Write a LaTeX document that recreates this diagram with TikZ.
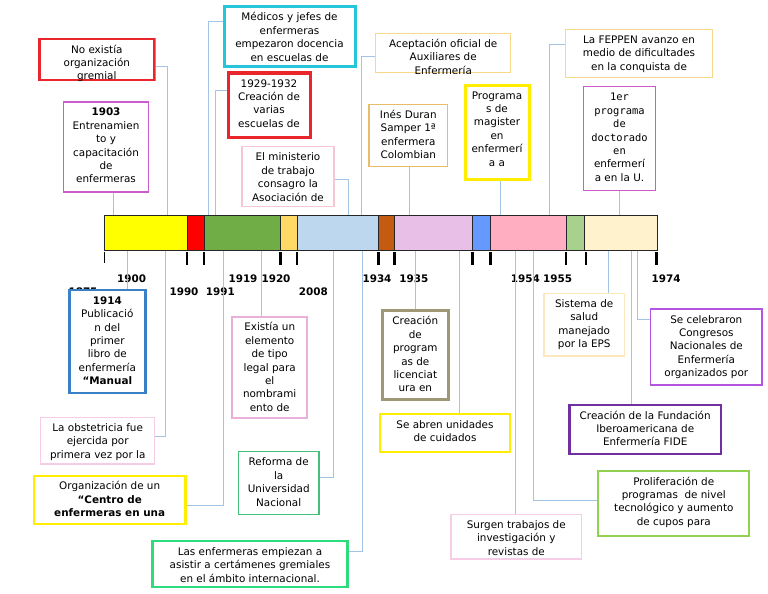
\documentclass[tikz,border=0pt]{standalone}
\usepackage{fontspec}
\setmainfont{DejaVu Sans}
\setmonofont{DejaVu Sans Mono}
\definecolor{amarillo}{HTML}{FFFF00}
\definecolor{rojo}{HTML}{FF0000}
\definecolor{verde}{HTML}{70AD47}
\definecolor{naranja}{HTML}{FFD966}
\definecolor{celeste}{HTML}{BDD7EE}
\definecolor{cafe}{HTML}{C55A11}
\definecolor{lila}{HTML}{E8BFE6}
\definecolor{azul}{HTML}{6699FF}
\definecolor{rosa}{HTML}{FFADC0}
\definecolor{verdeclaro}{HTML}{A9D18E}
\definecolor{crema}{HTML}{FFF2CC}
\definecolor{conector}{HTML}{A2C4E6}
\definecolor{bRojo}{HTML}{E8262C}
\definecolor{bOrquidea}{HTML}{CC5CCC}
\definecolor{bCian}{HTML}{26C6DA}
\definecolor{bRosa}{HTML}{F6C6D2}
\definecolor{bNaranja}{HTML}{F8D888}
\definecolor{bOro}{HTML}{E6BE6A}
\definecolor{bAmarillo}{HTML}{FFEE00}
\definecolor{bAzul}{HTML}{3A80C6}
\definecolor{bMalva}{HTML}{E8B0DA}
\definecolor{bVerde}{HTML}{44C07A}
\definecolor{bMenta}{HTML}{2EDC7E}
\definecolor{bCaqui}{HTML}{A09874}
\definecolor{bCrema}{HTML}{FCE8BC}
\definecolor{bPurpura}{HTML}{B455E0}
\definecolor{bVioleta}{HTML}{7030A0}
\definecolor{bLima}{HTML}{92D050}
\definecolor{bRosado}{HTML}{F6CCE6}
\begin{document}
\begin{tikzpicture}[x=1pt, y=-1pt,
      caja/.style n args={4}{draw=#1, line width=#2, fill=white, inner sep=0pt,
        execute at begin node={\fontsize{10.4pt}{13.4pt}\selectfont\begin{minipage}[c][#4pt][t]{#3pt}\centering\vspace*{4.8pt}\strut},
        execute at end node={\end{minipage}}},
      anio/.style={font=\bfseries\fontsize{10.4pt}{12pt}\selectfont, anchor=base, inner sep=0pt},
      con/.style={draw=conector, line width=0.9pt},
      tic/.style={line width=2.6pt},
    ]

    \useasboundingbox (0,0) rectangle (768,594);

    % barra de tiempo
    \foreach \a/\b/\c in {104/187/amarillo, 187/204/rojo, 204/280.5/verde, 280.5/297/naranja,
        297/378.5/celeste, 378.5/394.5/cafe, 394.5/472.7/lila, 472.7/490.3/azul,
        490.3/566/rosa, 566/584.5/verdeclaro, 584.5/657/crema}
      \filldraw[fill=\c, draw=black!85, line width=0.8pt] (\a,215) rectangle (\b,250);
    \node[draw=black!85, line width=1pt, minimum width=553pt, minimum height=35pt, inner sep=0pt] (barra) at (380.5,232.5) {};

    \draw[line width=1pt] (104.5,252) -- (104.5,263);
    \foreach \x in {187,204,280.5,297,378.5,394.5,472.7,490.3,566,586,656.5}
      \draw[tic] (\x,252) -- (\x,265);

    \foreach \x/\y/\t in {131.7/282/1900, 243/282/1919, 276/282/1920, 377/282/1934,
        413.8/282/1935, 525.3/282/1954, 557.7/282/1955, 666.2/282/1974,
        184/295.5/1990, 220.3/295.5/1991, 313.3/295.5/2008, 83/295.5/1875}
      \node[anio] (a\t) at (\x,\y) {\t};

    % arriba
    \begin{scope}
      \clip (38,37.7) rectangle (155.6,81.3);
      \node[caja={bRojo}{2.5pt}{115}{41}] (gremio) at (96.8,59.5) {No existía\\organización\\gremial};
    \end{scope}
    \node[caja={bOrquidea}{1.5pt}{85.4}{90.3}] (ent) at (106,146.9) {\textbf{1903}\\Entrenamien\\to y\\capacitación\\de\\enfermeras};
    \node[caja={bCian}{3pt}{131}{59.3}] (med) at (289.5,36.4) {Médicos y jefes de\\enfermeras\\empezaron docencia\\en escuelas de};
    \node[caja={bRojo}{3pt}{82}{64}] (esc) at (269,105) {1929-1932\\Creación de\\varias\\escuelas de};
    \node[caja={bRosa}{1.2pt}{92}{60}] (min) at (288,176.7) {El ministerio\\de trabajo\\consagro la\\Asociación de};
    \begin{scope}
      \clip (374.5,32.2) rectangle (511.9,73.8);
      \node[caja={bNaranja}{1.5pt}{135}{39.4}] (acep) at (443.2,53) {Aceptación oficial de\\Auxiliares de\\Enfermería};
    \end{scope}
    \node[caja={bOro}{1.5pt}{78.7}{62.4}] (ines) at (408.3,135.5) {Inés Duran\\Samper 1ª\\enfermera\\Colombian};
    \node[caja={bAmarillo}{3pt}{64}{94}] (mag) at (497,132) {Programa\\s de\\magister\\en\\enfermerí\\a a};
    \node[caja={bNaranja}{1.5pt}{146.6}{48}] (feppen) at (639,53.3) {La FEPPEN avanzo en\\medio de dificultades\\en la conquista de};
    \node[caja={bOrquidea}{1.5pt}{72.4}{104}] (doc) at (619.5,138.7) {\texttt{1er}\\\texttt{programa}\\\texttt{de}\\\texttt{doctorado}\\\texttt{en}\\enfermerí\\a en la U.};

    % abajo
    \node[caja={bAzul}{2.5pt}{76}{102.7}] (man) at (107.3,341.4) {\textbf{1914}\\Publicació\\n del\\primer\\libro de\\enfermería\\\textbf{“Manual}};
    \node[caja={bMalva}{2pt}{74.7}{101.6}] (leg) at (269.7,367.5) {Existía un\\elemento\\de tipo\\legal para\\el\\nombrami\\ento de};
    \node[caja={bRosado}{1.2pt}{114}{46.7}] (obst) at (97.7,440.7) {La obstetricia fue\\ejercida por\\primera vez por la};
    \node[caja={bAmarillo}{2.5pt}{151.3}{48.3}] (cen) at (109.7,499.9) {Organización de un\\\textbf{“Centro de}\\\textbf{enfermeras en una}};
    \node[caja={bVerde}{1.5pt}{80.7}{62.6}] (ref) at (278.7,483) {Reforma de\\la\\Universidad\\Nacional};
    \node[caja={bMenta}{2.5pt}{194.6}{45.7}] (int) at (250,563.9) {Las enfermeras empiezan a\\asistir a certámenes gremiales\\en el ámbito internacional.};
    \node[caja={bCaqui}{3pt}{66}{88.6}] (lic) at (415.3,355) {Creación\\de\\program\\as de\\licenciat\\ura en};
    \node[caja={bAmarillo}{2pt}{130}{38}] (uci) at (445,433.3) {Se abren unidades\\de cuidados};
    \node[caja={bCrema}{1.5pt}{80.3}{62.7}] (eps) at (584.2,324.7) {Sistema de\\salud\\manejado\\por la EPS};
    \node[caja={bPurpura}{1.5pt}{111.3}{76}] (cong) at (706.3,347) {Se celebraron\\Congresos\\Nacionales de\\Enfermería\\organizados por};
    \node[caja={bVioleta}{2.5pt}{151.7}{49}] (fide) at (645.2,429.5) {Creación de la Fundación\\Iberoamericana de\\Enfermería FIDE};
    \node[caja={bLima}{2pt}{151}{64.7}] (tec) at (673.8,503.3) {Proliferación de\\programas~ de nivel\\tecnológico y aumento\\de cupos para};
    \node[caja={bRosado}{1.2pt}{130.7}{44.7}] (inv) at (516.3,536.7) {Surgen trabajos de\\investigación y\\revistas de};

    % conectores arriba
    \draw[con] (gremio.east |- 0,66.7) -| (167,0 |- barra.north);
    \draw[con] (113,0 |- ent.south) -- (113,0 |- barra.north);
    \draw[con] (med.west |- 0,21.7) -| (208,0 |- barra.north);
    \draw[con] (esc.west |- 0,90.7) -| (215,0 |- barra.north);
    \draw[con] (min.east |- 0,179.3) -| (348,0 |- barra.north);
    \draw[con] (acep.west |- 0,56) -| (361,0 |- barra.north);
    \draw[con] (409,0 |- ines.south) -- (409,0 |- barra.north);
    \draw[con] (500.5,0 |- mag.south) -- (500.5,0 |- barra.north);
    \draw[con] (feppen.west |- 0,44) -| (549.5,0 |- barra.north);
    \draw[con] (619.5,0 |- doc.south) -- (619.5,0 |- barra.north);

    % conectores abajo
    \draw[con] (127,0 |- barra.south) -- (127,0 |- man.north);
    \draw[con] (165.5,0 |- barra.south) |- (obst.east |- 0,436);
    \draw[con] (223,0 |- barra.south) |- (cen.east |- 0,505);
    \draw[con] (261,0 |- barra.south) -- (261,0 |- leg.north);
    \draw[con] (333,0 |- barra.south) |- (ref.east |- 0,477);
    \draw[con] (362,0 |- barra.south) |- (int.east |- 0,551);
    \draw[con] (415.5,0 |- barra.south) -- (415.5,0 |- lic.north);
    \draw[con] (459,0 |- barra.south) -- (459,0 |- uci.north);
    \draw[con] (515,0 |- barra.south) -- (515,0 |- inv.north);
    \draw[con] (533,0 |- barra.south) |- (tec.west |- 0,500.5);
    \draw[con] (608,0 |- barra.south) -- (608,0 |- eps.north);
    \draw[con] (631.5,0 |- barra.south) -- (631.5,0 |- fide.north);
    \draw[con] (637.5,0 |- barra.south) |- (cong.west |- 0,319);

\end{tikzpicture}
\end{document}
